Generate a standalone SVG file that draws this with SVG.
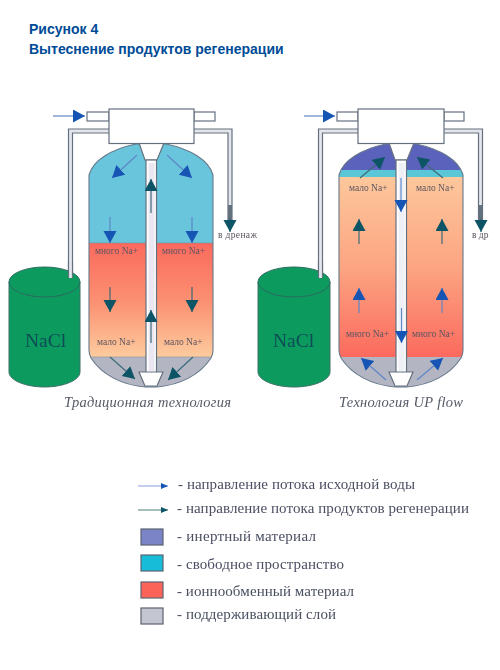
<svg xmlns="http://www.w3.org/2000/svg" xmlns:xlink="http://www.w3.org/1999/xlink" width="500" height="670" viewBox="0 0 500 670">
<style>
.title{font:bold 14px "Liberation Sans",Arial,sans-serif;fill:#004b97}
.na{font-size:9.500px;fill:#5c5560;font-family:"Liberation Serif",serif}
.nacl{font-size:19.500px;fill:#0d4c55;font-family:"Liberation Serif",serif}
.cap{font-size:14.500px;font-style:italic;fill:#555a66;font-family:"Liberation Serif",serif}
.leg{font-size:15px;fill:#4a4f60;font-family:"Liberation Serif",serif}
.pipe{fill:#fff;stroke:#65707f;stroke-width:1.2}
.pipeline{fill:none;stroke:#65707f;stroke-width:5.2}
.pipein{fill:none;stroke:#e4e6ec;stroke-width:2.8}
.ol{fill:none;stroke:#66788a;stroke-width:1.1}
.blue{fill:none;stroke:#5f86c8;stroke-width:1.2;marker-end:url(#hb)}
.teal{fill:none;stroke:#3d6a78;stroke-width:1.2;marker-end:url(#ht)}
.blueleg{fill:none;stroke:#a9b6e6;stroke-width:1.4;marker-end:url(#hbs)}
.tealleg{fill:none;stroke:#7fa59c;stroke-width:1.4;marker-end:url(#hts)}
.sw{stroke:#5a6470;stroke-width:1.2}
</style>
<defs>
<filter id="soft" x="-2%" y="-2%" width="104%" height="104%"><feGaussianBlur stdDeviation="0.4"/></filter>
<marker id="hb" markerUnits="userSpaceOnUse" markerWidth="14" markerHeight="14" refX="12" refY="6.5" orient="auto"><path d="M0,0L12,6.5L0,13Z" fill="#1554b4"/></marker>
<marker id="ht" markerUnits="userSpaceOnUse" markerWidth="14" markerHeight="14" refX="12" refY="6.5" orient="auto"><path d="M0,0L12,6.5L0,13Z" fill="#0d5566"/></marker>
<marker id="hbs" markerUnits="userSpaceOnUse" markerWidth="8" markerHeight="8" refX="7" refY="3" orient="auto"><path d="M0,0L7,3L0,6Z" fill="#1554b4"/></marker>
<marker id="hts" markerUnits="userSpaceOnUse" markerWidth="8" markerHeight="8" refX="7" refY="3" orient="auto"><path d="M0,0L7,3L0,6Z" fill="#0d5566"/></marker>
<path id="shell" d="M89,175C93,160 112,149 136,144L166,144C190,149 209,160 213,175L213,350C213,354 212,356 211,358C200,375 180,385 157,387L145,387C122,385 102,375 91,358C90,356 89,354 89,350Z"/>
<clipPath id="cl"><use xlink:href="#shell"/></clipPath>
<clipPath id="cr"><use xlink:href="#shell" transform="translate(250,0)"/></clipPath>
<linearGradient id="redL" x1="0" y1="0" x2="0" y2="1"><stop offset="0" stop-color="#fb6a5e"/><stop offset="0.5" stop-color="#fb8f70"/><stop offset="1" stop-color="#fdcb9e"/></linearGradient>
<linearGradient id="redR" x1="0" y1="0" x2="0" y2="1"><stop offset="0" stop-color="#fdc79c"/><stop offset="0.5" stop-color="#fca582"/><stop offset="1" stop-color="#fb6a5e"/></linearGradient>
</defs>
<rect width="500" height="670" fill="#fff"/>
<g id="heading">
<text class="title" x="29" y="34">Рисунок 4</text>
<text class="title" x="29" y="54">Вытеснение продуктов регенерации</text>
</g>
<g filter="url(#soft)">
<g id="connectors-pipes">
<path class="pipeline" d="M109,131H70.5V278"/><path class="pipein" d="M109,131H70.5V278"/>
<path class="pipeline" d="M194,131H230V220"/><path class="pipein" d="M194,131H230V205"/>
<path class="pipeline" d="M358,131H320.5V278"/><path class="pipein" d="M358,131H320.5V278"/>
<path class="pipeline" d="M444,131H480.5V220"/><path class="pipein" d="M444,131H480.5V205"/>
<rect class="pipe" x="87" y="112" width="22" height="9"/><rect class="pipe" x="194" y="112" width="21" height="9"/>
<rect class="pipe" x="337" y="112" width="21" height="9"/><rect class="pipe" x="444" y="112" width="20" height="9"/>
</g>
<g id="brine-left">
<path d="M9,282V372C9,380 25,387 44.500,387S80,380 80,372V282Z" fill="#0f9a5e" stroke="#3f6f6a" stroke-width="1"/>
<ellipse cx="44.500" cy="282" rx="35.500" ry="15" fill="#0d9a5f" stroke="#2a6a5e" stroke-width="1"/>
<text class="nacl" x="25" y="347">NaCl</text>
</g>
<path class="pipeline" d="M70.500,262V278"/><path class="pipein" d="M70.500,262V278"/>
<g id="tank-left">
<g clip-path="url(#cl)">
<rect x="85" y="140" width="132" height="103" fill="#69c5dc"/>
<rect x="85" y="243" width="132" height="114" fill="url(#redL)"/>
<rect x="85" y="357" width="132" height="32" fill="#b3b6c2"/>
</g>
<use xlink:href="#shell" class="ol"/>
<path d="M89,243H213" stroke="#7a8a94" stroke-width="0.6"/>
<path d="M91,357H211" stroke="#8a8f9a" stroke-width="0.6"/>
<polygon points="139,143 164,143 157,160 145,160" class="pipe"/>
<rect x="146" y="160" width="10.500" height="213" class="pipe"/>
<rect x="148.500" y="163" width="6" height="208" fill="#ebe7f2"/>
<polygon points="139,372 163,372 157,386 145,386" class="pipe"/>
<text class="na" x="95" y="254">много Na+</text><text class="na" x="162" y="254">много Na+</text>
<text class="na" x="97" y="345">мало Na+</text><text class="na" x="164" y="345">мало Na+</text>
</g>
<g id="control-left"><rect class="pipe" x="109" y="109" width="85" height="34.500"/></g>
<g id="brine-right">
<path d="M258,282V372C258,380 274,387 294,387S330,380 330,372V282Z" fill="#0f9a5e" stroke="#3f6f6a" stroke-width="1"/>
<ellipse cx="294" cy="282" rx="36" ry="15" fill="#0d9a5f" stroke="#2a6a5e" stroke-width="1"/>
<text class="nacl" x="273" y="347">NaCl</text>
</g>
<path class="pipeline" d="M320.500,262V278"/><path class="pipein" d="M320.500,262V278"/>
<g id="tank-right">
<g clip-path="url(#cr)">
<rect x="335" y="140" width="132" height="30" fill="#5a62bc"/>
<rect x="335" y="170" width="132" height="7" fill="#5ac7d6"/>
<rect x="335" y="177" width="132" height="180" fill="url(#redR)"/>
<rect x="335" y="357" width="132" height="32" fill="#b3b6c2"/>
</g>
<use xlink:href="#shell" transform="translate(250,0)" class="ol"/>
<polygon points="389,143 414,143 407,160 395,160" class="pipe"/>
<rect x="396" y="160" width="10.500" height="213" class="pipe"/>
<rect x="398.500" y="163" width="6" height="208" fill="#eef0f6"/>
<polygon points="389,372 413,372 407,386 395,386" class="pipe"/>
<text class="na" x="349" y="191">мало Na+</text><text class="na" x="416" y="191">мало Na+</text>
<text class="na" x="346" y="337">много Na+</text><text class="na" x="412" y="337">много Na+</text>
</g>
<g id="control-right"><rect class="pipe" x="358" y="109" width="86" height="34.500"/></g>
<g id="connectors">
<path class="blue" d="M53,116H85"/><path class="blue" d="M137,155L112,178"/><path class="blue" d="M167,155L192,178"/>
<path class="teal" d="M151,213V179"/><path class="blue" d="M110,217V243"/><path class="blue" d="M192,217V243"/>
<path class="teal" d="M230,218V232"/>
<path class="teal" d="M110,287V312"/><path class="teal" d="M192,287V312"/><path class="teal" d="M151,343V310"/>
<path class="teal" d="M110,357L135,379"/><path class="teal" d="M193,357L168,380"/>
<path class="blue" d="M304,116H335"/>
<path class="teal" d="M360,178L385,157"/><path class="teal" d="M443,178L417,157"/>
<path class="blue" d="M401,178V212"/><path class="teal" d="M359,244V219"/><path class="teal" d="M442,244V219"/>
<path class="teal" d="M481,218V232"/>
<path class="blue" d="M359,313V288"/><path class="blue" d="M442,313V288"/><path class="blue" d="M401.500,308V343"/>
<path class="blue" d="M386,380L361,358"/><path class="blue" d="M417,380L443,358"/>
</g>
<g id="labels">
<text class="na" x="218" y="238" textLength="39">в дренаж</text>
<text class="na" x="472" y="238">в др</text>
<text class="cap" x="64" y="407" textLength="167">Традиционная технология</text>
<text class="cap" x="339" y="407" textLength="124">Технология UP flow</text>
</g>
<g id="legend">
<path class="blueleg" d="M138,486H168"/><path class="tealleg" d="M138,510H168"/>
<text class="leg" x="178" y="489" textLength="237">- направление потока исходной воды</text>
<text class="leg" x="177" y="513" textLength="292">- направление потока продуктов регенерации</text>
<rect class="sw" x="141" y="529" width="22" height="16" fill="#7c84c8"/>
<text class="leg" x="177" y="541" textLength="139">- инертный  материал</text>
<rect class="sw" x="141" y="555" width="22" height="16" fill="#18bcd8"/>
<text class="leg" x="177" y="569" textLength="167">- свободное пространство</text>
<rect class="sw" x="141" y="582" width="22" height="16" fill="#fb6258"/>
<text class="leg" x="177" y="596" textLength="177">- ионнообменный материал</text>
<rect class="sw" x="141" y="608" width="22" height="16" fill="#c3c6d0"/>
<text class="leg" x="177" y="619" textLength="159">- поддерживающий слой</text>
</g>
</g>
</svg>
